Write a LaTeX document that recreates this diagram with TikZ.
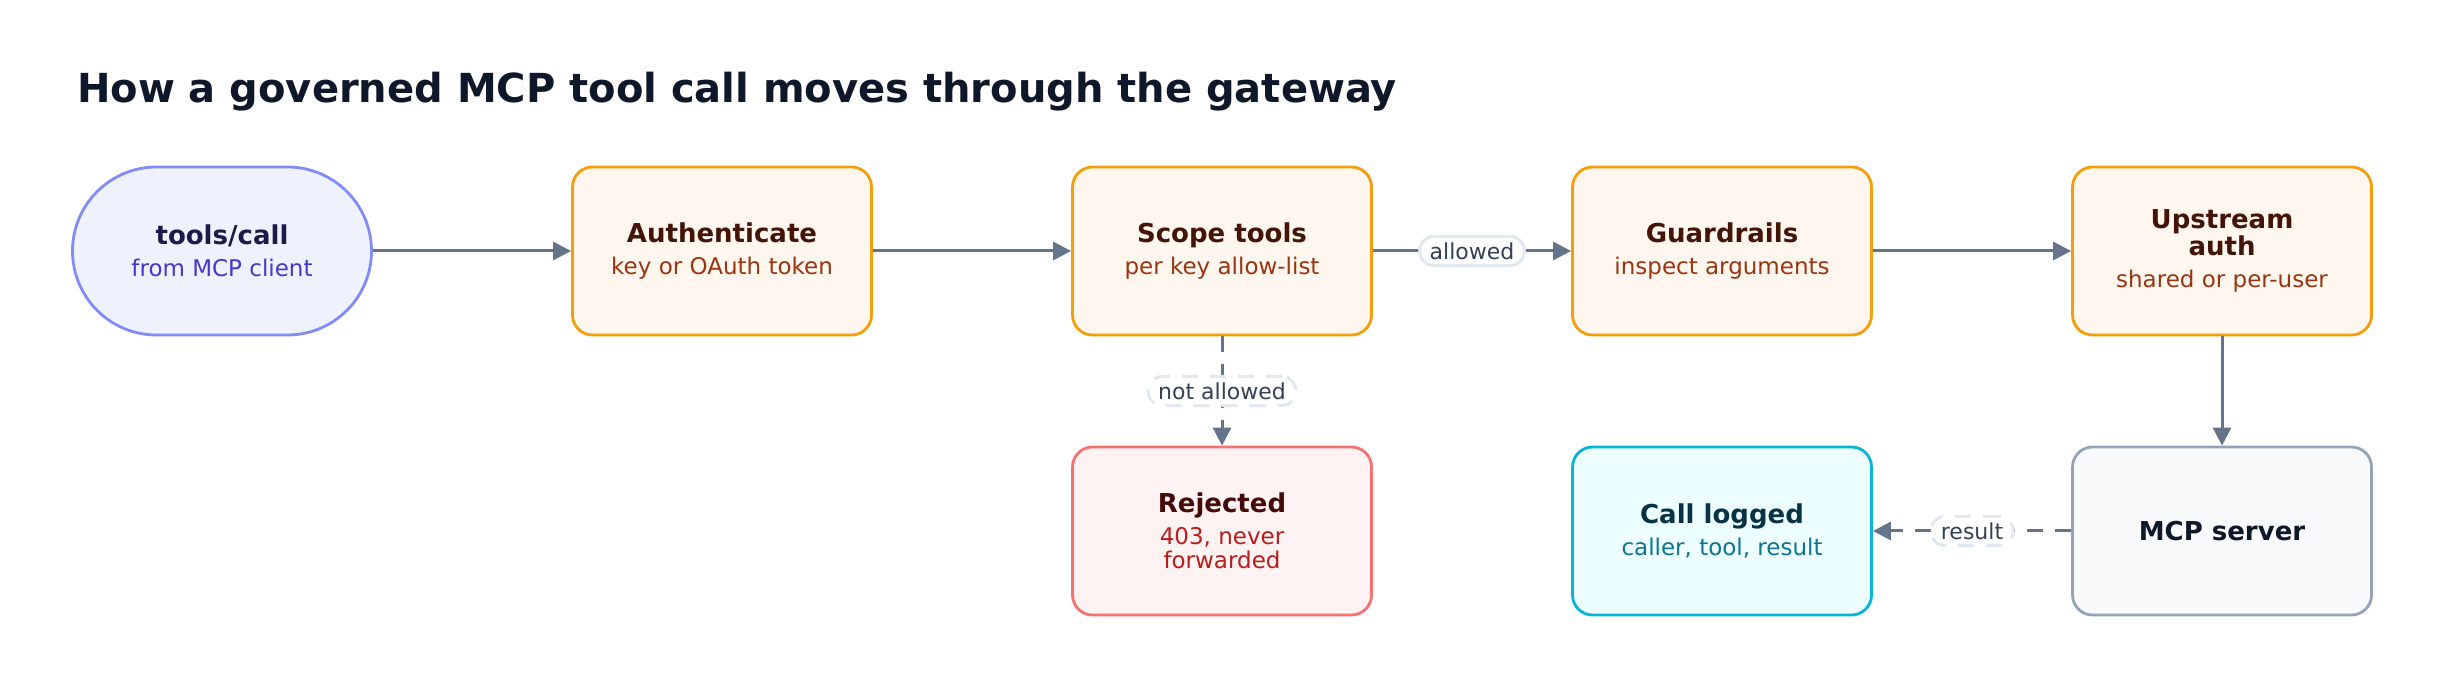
\documentclass[tikz,border=0pt]{standalone}
\usepackage{fontspec}
\setmainfont{DejaVu Sans}
\usetikzlibrary{arrows.meta}
\definecolor{arr}{HTML}{64748B}
\definecolor{pillb}{HTML}{E2E8F0}
\definecolor{pillt}{HTML}{334155}
\tikzset{
  x=0.5pt,y=-0.5pt,
  box/.style={draw,line width=1.4pt,rounded corners=10pt,minimum width=149.5pt,minimum height=84pt,inner sep=0pt,align=center},
  obox/.style={box,fill={rgb,255:red,255;green,247;blue,237},draw={rgb,255:red,245;green,158;blue,11}},
  conn/.style={draw=arr,line width=1.5pt,-{Triangle[length=9pt,width=9pt]}},
  pill/.style={draw=pillb,fill=white,rounded corners=7pt,text=pillt,font=\fontsize{11}{13}\selectfont,inner xsep=5pt,inner ysep=3pt},
}
\newcommand{\ttl}[2]{{\color[HTML]{#1}\bfseries\fontsize{13}{17}\selectfont #2}}
\newcommand{\sbt}[2]{{\color[HTML]{#1}\fontsize{11.5}{16}\selectfont #2}}
\begin{document}
\begin{tikzpicture}
\path[use as bounding box] (0,0) rectangle (2444,688);
\node[anchor=west,font=\bfseries\fontsize{20}{24}\selectfont,text={rgb,255:red,15;green,23;blue,42}] (title) at (70,92) {How a governed MCP tool call moves through the gateway};
\node[box,rounded corners=42pt,fill={rgb,255:red,238;green,242;blue,255},draw={rgb,255:red,129;green,140;blue,248}] (call) at (222,251) {\ttl{1E1B4B}{tools/call}\\[4pt]\sbt{4338CA}{from MCP client}};
\node[obox] (auth) at (722,251) {\ttl{431407}{Authenticate}\\[4pt]\sbt{9A3412}{key or OAuth token}};
\node[obox] (scope) at (1222,251) {\ttl{431407}{Scope tools}\\[4pt]\sbt{9A3412}{per key allow-list}};
\node[obox] (guard) at (1722,251) {\ttl{431407}{Guardrails}\\[4pt]\sbt{9A3412}{inspect arguments}};
\node[obox] (up) at (2222,251) {\ttl{431407}{Upstream}\\\ttl{431407}{auth}\\[4pt]\sbt{9A3412}{shared or per-user}};
\node[box,fill={rgb,255:red,254;green,242;blue,242},draw={rgb,255:red,248;green,113;blue,113}] (rej) at (1222,531) {\ttl{450A0A}{Rejected}\\[4pt]\sbt{B91C1C}{403, never}\\\sbt{B91C1C}{forwarded}};
\node[box,fill={rgb,255:red,236;green,254;blue,255},draw={rgb,255:red,6;green,182;blue,212}] (log) at (1722,531) {\ttl{083344}{Call logged}\\[4pt]\sbt{0E7490}{caller, tool, result}};
\node[box,fill={rgb,255:red,248;green,250;blue,252},draw={rgb,255:red,148;green,163;blue,184}] (srv) at (2222,531) {\ttl{0F172A}{MCP server}};
\draw[conn] (call) -- (auth);
\draw[conn] (auth) -- (scope);
\draw[conn] (scope) -- node[pill]{allowed} (guard);
\draw[conn] (guard) -- (up);
\draw[conn] (up) -- (srv);
\draw[conn,dash pattern=on 8pt off 6pt] (scope) -- node[pill]{not allowed} (rej);
\draw[conn,dash pattern=on 8pt off 6pt] (srv) -- node[pill]{result} (log);
\end{tikzpicture}
\end{document}
